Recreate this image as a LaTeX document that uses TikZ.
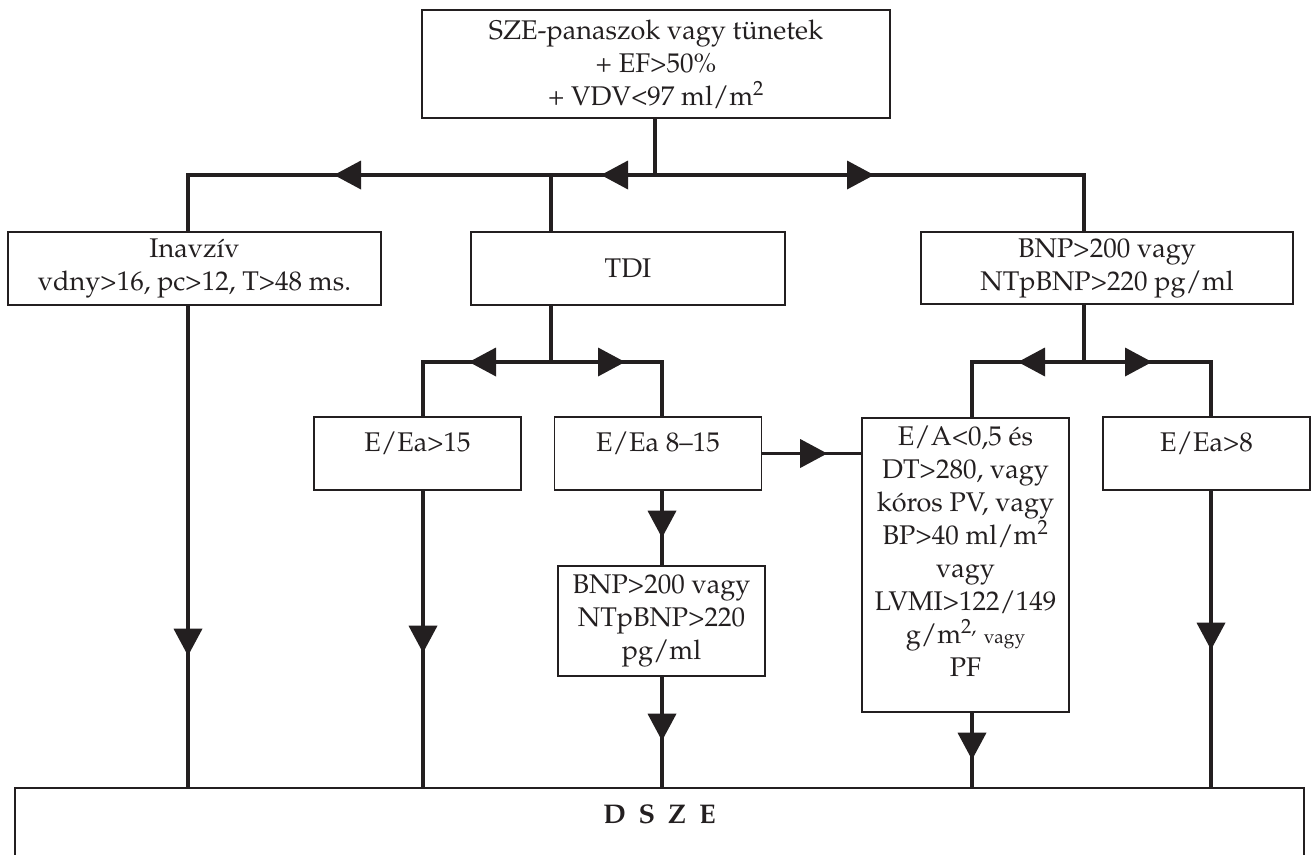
\documentclass[tikz,border=0pt]{standalone}
\usepackage[T1]{fontenc}
\usepackage{mathpazo}
\usetikzlibrary{decorations.markings}
\definecolor{ink}{RGB}{35,31,32}
\newcommand{\dfont}{\fontsize{27}{33}\selectfont}
\newcommand{\sfont}{\fontsize{19}{22}\selectfont}
\newcommand{\trihead}{\fill[ink] (-27pt,-14.5pt) -- (0pt,0pt) -- (-27pt,14.5pt) -- cycle;}
\tikzset{
  box/.style={draw=ink, line width=1.4pt, inner sep=0pt, align=center, text=ink},
  lowbox/.style={box, minimum width=207pt, minimum height=73pt, text height=34pt, text depth=39pt},
  conn/.style={draw=ink, line width=3.2pt, line join=miter},
  arrowat/.style={postaction={decorate, decoration={markings,
      mark=at position #1 with {\trihead}}}}
}
\begin{document}
\begin{tikzpicture}[x=1pt, y=-1pt, every node/.style={font=\dfont}]
\useasboundingbox (0,0) rectangle (1311,854);
\fill[white] (0,0) rectangle (1311,854);

% boxes
\node[box, minimum width=468pt, minimum height=108pt] (top) at (656,64)
  {SZE-panaszok vagy tünetek\\+ EF>50\%\\+ VDV<97 ml/m\textsuperscript{2}};
\node[box, minimum width=373pt, minimum height=73pt] (inav) at (194.5,268.5)
  {Inavzív\\vdny>16, pc>12, T>48 ms.};
\node[box, minimum width=314pt, minimum height=73pt] (tdi) at (628,268.5) {TDI};
\node[box, minimum width=372pt, minimum height=72pt] (bnpa) at (1107,268)
  {BNP>200 vagy\\NTpBNP>220 pg/ml};
\node[lowbox] (e15) at (417.5,453.5) {E/Ea>15};
\node[lowbox] (e815) at (658,453.5) {E/Ea 8--15};
\node[lowbox] (ea8) at (1206.5,453.5) {E/Ea>8};
\node[box, minimum width=207pt, minimum height=294pt] (big) at (965.5,565) {};
\node[align=center, text=ink, inner sep=0pt] (bigtext) at (965.5,551)
  {E/A<0,5 és\\DT>280, vagy\\kóros PV, vagy\\BP>40 ml/m\textsuperscript{2}\\vagy\\LVMI>122/149\\g/m\textsuperscript{2,} {\sfont vagy}\\PF};
\node[box, minimum width=207pt, minimum height=110pt] (bnpb) at (661.5,621)
  {BNP>200 vagy\\NTpBNP>220\\pg/ml};
\node[box, minimum width=1289pt, minimum height=92pt, text height=35pt, text depth=57pt,
  font=\dfont\bfseries] (dsze) at (659.5,834) {{\spaceskip=13pt D S Z E}};

% junctions
\coordinate (j1) at (655,175);
\coordinate (ca) at (188,175);
\coordinate (cb) at (551,175);
\coordinate (cc) at (1084,175);
\coordinate (j2) at (551,362);
\coordinate (cd) at (423,362);
\coordinate (ce) at (662,362);
\coordinate (j3) at (1084,362);
\coordinate (cf) at (972,362);
\coordinate (cg) at (1211,362);

% first level
\draw[conn] (top.south -| j1) -- (j1);
\draw[conn, arrowat=54pt] (j1) -- (cb);
\draw[conn, arrowat=217pt] (cb) -- (ca) -- (ca |- inav.north);
\draw[conn] (cb) -- (cb |- tdi.north);
\draw[conn, arrowat=219pt] (j1) -- (cc) -- (cc |- bnpa.north);

% second level (TDI)
\draw[conn] (j2 |- tdi.south) -- (j2);
\draw[conn, arrowat=82pt] (j2) -- (cd) -- (cd |- e15.north);
\draw[conn, arrowat=74pt] (j2) -- (ce) -- (ce |- e815.north);

% second level (BNP)
\draw[conn] (j3 |- bnpa.south) -- (j3);
\draw[conn, arrowat=66pt] (j3) -- (cf) -- (cf |- big.north);
\draw[conn, arrowat=68pt] (j3) -- (cg) -- (cg |- ea8.north);

% down to DSZE
\draw[conn, arrowat=350pt] (ca |- inav.south) -- (ca |- dsze.north);
\draw[conn, arrowat=162pt] (cd |- e15.south) -- (cd |- dsze.north);
\draw[conn, arrowat=47pt] (ce |- e815.south) -- (ce |- bnpb.north);
\draw[conn, arrowat=64pt] (ce |- bnpb.south) -- (ce |- dsze.north);
\draw[conn, arrowat=65pt] (e815.east) -- (big.west |- e815.east);
\draw[conn, arrowat=47pt] (cf |- big.south) -- (cf |- dsze.north);
\draw[conn, arrowat=159pt] (cg |- ea8.south) -- (cg |- dsze.north);
\end{tikzpicture}
\end{document}
